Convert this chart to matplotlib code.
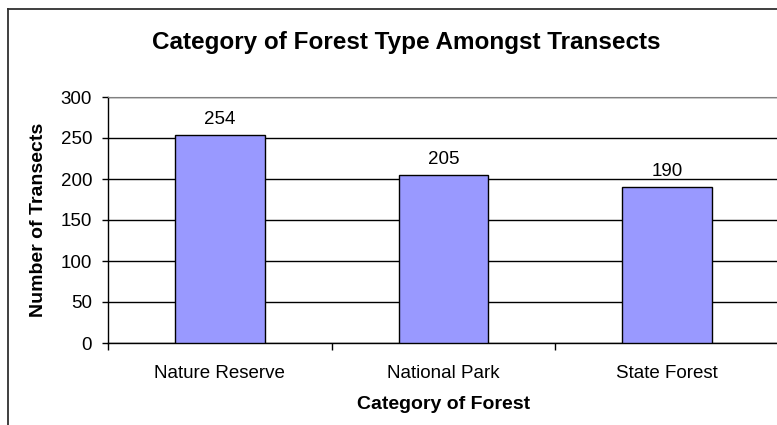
import matplotlib
matplotlib.use("Agg")
import matplotlib.pyplot as plt
from matplotlib.lines import Line2D

plt.rcParams['font.family'] = ['Liberation Sans', 'DejaVu Sans']

# data
categories = ['Nature Reserve', 'National Park', 'State Forest']
transects = [254, 205, 190]
y_ticks = [0, 50, 100, 150, 200, 250, 300]

fig = plt.figure(figsize=(7.77, 4.25), dpi=100)

# chart frame (only left and top visible in the crop)
W, H = 777, 425
fig.add_artist(Line2D([8 / W, 8 / W], [0, 1 - 9 / H], color='#303030', lw=1.3, transform=fig.transFigure))
fig.add_artist(Line2D([8 / W, 1.0], [1 - 9 / H, 1 - 9 / H], color='#303030', lw=1.3, transform=fig.transFigure))

ax = fig.add_axes([108 / W, 82 / H, 671 / W, 246 / H])

x = range(len(categories))
ax.bar(x, transects, width=0.4, color='#9999FF', edgecolor='black', linewidth=1, zorder=3)
for xi, v in zip(x, transects):
    ax.annotate(str(v), (xi, v), xytext=(0, 5), textcoords='offset points',
                ha='center', va='bottom', fontsize=13.5)

ax.set_xlim(-0.5, 2.5)
ax.set_ylim(0, 300)
ax.set_yticks(y_ticks)
ax.tick_params(axis='y', labelsize=13.5, length=4.5, width=1, color='black', pad=7)

# category boundary ticks and centred labels
ax.set_xticks([-0.5, 0.5, 1.5, 2.5])
ax.set_xticklabels([])
ax.tick_params(axis='x', which='major', length=5, width=1, color='black')
ax.set_xticks(list(x), minor=True)
ax.set_xticklabels(categories, minor=True, fontsize=13.5)
ax.tick_params(axis='x', which='minor', length=0, pad=16)

ax.yaxis.grid(True, color='black', linewidth=1)
ax.set_axisbelow(True)

for s in ['left', 'bottom']:
    ax.spines[s].set_color('black')
    ax.spines[s].set_linewidth(1)
ax.spines['top'].set_color('#808080')
ax.spines['right'].set_visible(False)

ax.set_xlabel('Category of Forest', fontsize=14, fontweight='bold', labelpad=10)
ax.set_ylabel('Number of Transects', fontsize=14, fontweight='bold', labelpad=10)

fig.text(406 / W, 1 - 42 / H, 'Category of Forest Type Amongst Transects',
         ha='center', va='center', fontsize=17.5, fontweight='bold')

fig.savefig('out.png', dpi=100)
